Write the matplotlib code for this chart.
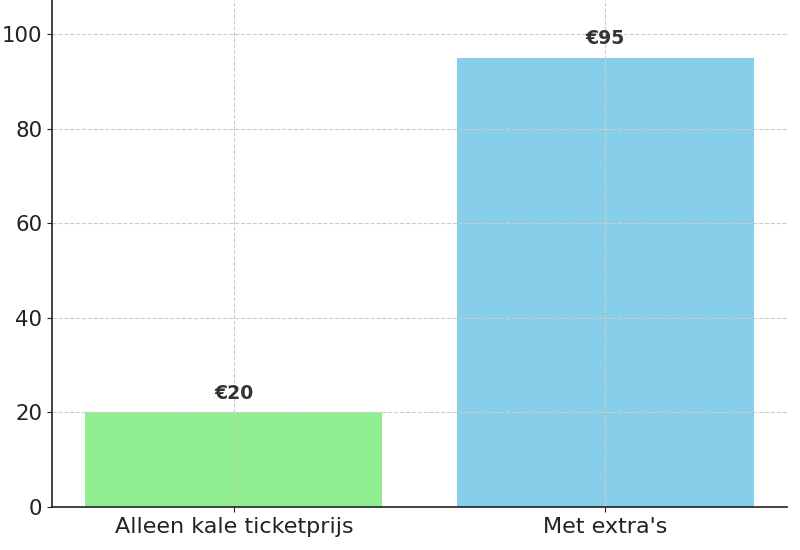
import matplotlib.pyplot as plt

categories = ["Alleen kale ticketprijs", "Met extra's"]
prices = [20, 95]
labels = ["€20", "€95"]
bar_colors = ['lightgreen', 'skyblue']

fig = plt.figure(figsize=(8, 5.5), dpi=100)
ax = fig.add_axes([0.065, 0.078, 0.919, 0.922])

bars = ax.bar(categories, prices, color=bar_colors, width=0.8)
for bar, lab in zip(bars, labels):
    ax.text(bar.get_x() + bar.get_width() / 2, bar.get_height() + 2, lab,
            ha='center', va='bottom', fontsize=13.6, fontweight='bold', color='#333333')

ax.set_ylim(0, 107.2)
ax.grid(True, linestyle='--', color='#cccccc', linewidth=0.8)
ax.spines['top'].set_visible(False)
ax.spines['right'].set_visible(False)
ax.tick_params(axis='both', colors='#222222')
ax.tick_params(axis='x', labelsize=16)
ax.tick_params(axis='y', labelsize=15.3)
for s in ('left', 'bottom'):
    ax.spines[s].set_linewidth(1.2)
    ax.spines[s].set_color('#222222')

fig.savefig('out.png', dpi=100)
